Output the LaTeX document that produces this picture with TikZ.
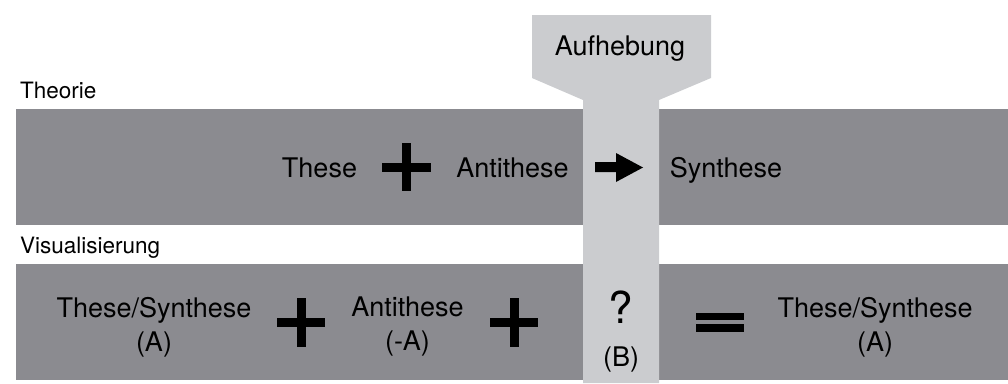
\documentclass[tikz,border=0pt]{standalone}
\usepackage{fontspec}
\setmainfont{TeX Gyre Heros}
\definecolor{band}{RGB}{139,139,144}
\definecolor{bar}{RGB}{203,204,207}
\begin{document}
\begin{tikzpicture}[x=1pt,y=-1pt,
  lbl/.style={anchor=base,inner sep=0pt,font=\fontsize{27}{27}\selectfont},
  side/.style={anchor=base west,inner sep=0pt,font=\fontsize{22.5}{22.5}\selectfont},
  sym/.style={fill=black}]
\useasboundingbox (0,0) rectangle (1008,383);
% bands
\fill[band] (16,109) rectangle (1008,225);
\fill[band] (16,264) rectangle (1008,380);
% Aufhebung bar
\fill[bar] (532,15) -- (711,15) -- (711,78) -- (659,100) -- (659,383) -- (583,383) -- (583,100) -- (532,78) -- cycle;
% side labels
\node[side] (theorie) at (20,98) {Theorie};
\node[side] (visual) at (20,253) {Visualisierung};
% top
\node[lbl] (auf) at (620,55) {Aufhebung};
\node[lbl] (these) at (319.5,177) {These};
\node[lbl] (anti) at (512.5,177) {Antithese};
\node[lbl] (syn) at (726,177) {Synthese};
\fill[sym] (382,163) rectangle (431,172);
\fill[sym] (402,143) rectangle (411,191);
\fill[sym] (595,162) -- (616,162) -- (616,153) -- (643,167.5) -- (616,182) -- (616,172) -- (595,172) -- cycle;
% bottom
\node[lbl] (ts1) at (154,317) {These/Synthese};
\node[lbl] (ts1b) at (154,351) {(A)};
\node[lbl] (an2) at (407.5,316) {Antithese};
\node[lbl] (an2b) at (407.5,350) {(-A)};
\node[lbl,font=\fontsize{44}{44}\selectfont] (q) at (621,323) {?};
\node[lbl] (qb) at (621,366) {(B)};
\node[lbl] (ts2) at (875,317) {These/Synthese};
\node[lbl] (ts2b) at (875,351) {(A)};
\fill[sym] (277,318) rectangle (325,327);
\fill[sym] (297,298) rectangle (306,347);
\fill[sym] (490,318) rectangle (538,327);
\fill[sym] (510,298) rectangle (519,347);
\fill[sym] (696,313) rectangle (744,320);
\fill[sym] (696,324) rectangle (744,332);
\end{tikzpicture}
\end{document}
